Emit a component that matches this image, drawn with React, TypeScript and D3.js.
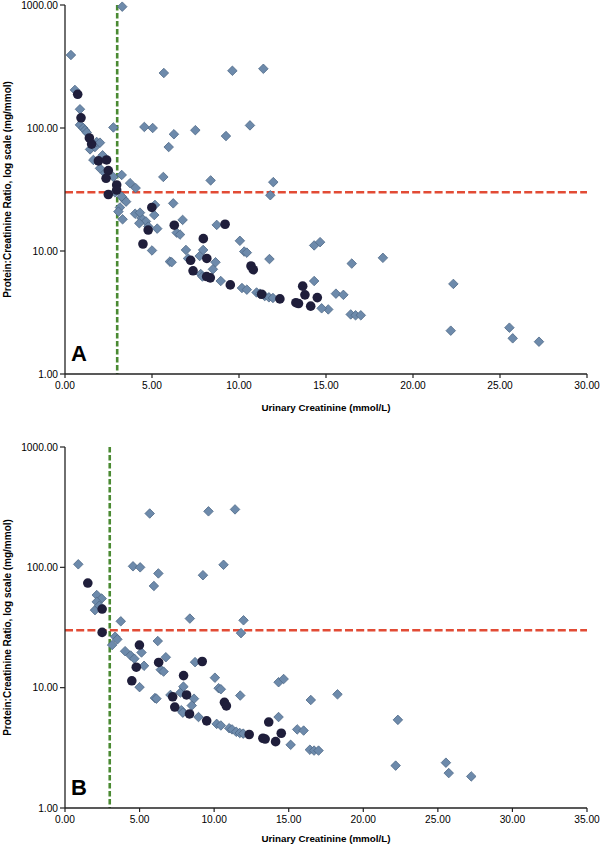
import * as d3 from 'd3';

// values: [urinary creatinine, protein:creatinine ratio]
const sharedDiamonds: [number, number][] = [
  [3.74, 35.6], [4.56, 102], [5.04, 100], [6.26, 89], [5.96, 70], [5.68, 280],
  [9.62, 292], [11.4, 303], [9.25, 86], [10.63, 105], [8.37, 37.5], [11.97, 36.3],
  [11.8, 28.4], [3.36, 26.5], [3.51, 25.2], [3.16, 22.6], [4.03, 20.1], [4.4, 18.5],
  [4.65, 17.4], [5.3, 15.2], [5.13, 19.6], [6.22, 24.4], [6.76, 17.9], [6.42, 14.1],
  [6.61, 13.6], [5.0, 10.1], [6.03, 8.2], [6.13, 8.1], [7.07, 8.7], [7.74, 9.1],
  [7.94, 10.2], [8.65, 8.1], [8.5, 7.1], [7.8, 6.5], [7.9, 6.2], [8.95, 5.7],
  [8.72, 16.3], [10.05, 12.1], [10.3, 9.9], [10.45, 9.7], [10.17, 5.0], [10.45, 4.85],
  [11.01, 4.6], [11.2, 4.5], [11.48, 4.3], [11.72, 4.2], [11.95, 4.15], [11.75, 8.6],
  [14.32, 5.7], [14.32, 11.1], [14.66, 11.8], [15.13, 3.35], [15.57, 4.5], [16.0, 4.4],
  [16.42, 3.05], [16.7, 3.0], [17.0, 3.0], [16.48, 7.9], [18.27, 8.8], [22.32, 5.4],
  [22.17, 2.25], [25.54, 2.38], [25.73, 1.95], [27.24, 1.83]
];

const sharedCircles: [number, number][] = [
  [1.53, 74], [2.49, 45], [2.49, 28.8], [4.99, 22.6], [4.78, 14.8], [4.48, 11.4],
  [6.28, 16.2], [7.22, 8.4], [7.36, 6.9], [7.95, 12.6], [8.15, 8.7], [8.35, 6.05],
  [9.2, 16.5], [9.5, 5.3], [10.69, 7.55], [10.82, 7.05], [12.35, 4.08], [13.66, 5.18],
  [14.12, 3.56], [14.5, 4.18], [13.27, 3.8], [13.42, 3.74]
];

const onlyADiamonds: [number, number][] = [
  [0.34, 392], [0.57, 204], [0.86, 142], [0.86, 106], [1.05, 100], [1.15, 96],
  [1.25, 92], [1.44, 67], [1.72, 70], [1.82, 77], [2.01, 76], [1.63, 55], [2.16, 60],
  [2.01, 47], [2.3, 42.8], [2.78, 40], [2.87, 30], [2.78, 101], [3.29, 969],
  [3.26, 41.5], [4.06, 32.5], [7.49, 96], [5.65, 40], [3.26, 27.7], [3.07, 20.9],
  [3.31, 18.1], [4.31, 20.5], [4.27, 16.8], [4.79, 15.8], [5.17, 23.7], [6.95, 10.2],
  [14.75, 3.42]
];

const onlyACircles: [number, number][] = [
  [0.73, 188], [0.92, 121], [1.4, 83], [1.92, 54], [2.39, 55], [2.36, 39],
  [2.97, 34.4], [2.97, 31.3], [8.14, 6.2], [11.3, 4.45], [13.79, 4.4]
];

const onlyBDiamonds: [number, number][] = [
  [0.89, 106], [2.13, 58.8], [2.46, 55], [2.13, 51.7], [2.01, 44.1], [2.3, 48]
];

const onlyBCircles: [number, number][] = [];

const yTicks = [1, 10, 100, 1000];
const xTicksA = [0, 5, 10, 15, 20, 25, 30];
const xTicksB = [0, 5, 10, 15, 20, 25, 30, 35];
const uacrCut = 30;
const creatCut = 3;

const font = 'Arial, "Liberation Sans", Helvetica, sans-serif';

interface PanelProps {
  label: string;
  xMax: number;
  xTicks: number[];
  top: number;
  bottom: number;
  titleGap: number;
  diamonds: [number, number][];
  circles: [number, number][];
}

function Panel({ label, xMax, xTicks, top, bottom, titleGap, diamonds, circles }: PanelProps) {
  const left = 65;
  const right = 587;
  const x = d3.scaleLinear().domain([0, xMax]).range([left, right]);
  const y = d3.scaleLog().domain([1, 1000]).range([bottom, top]);
  const diamond = d3.symbol().type(d3.symbolDiamond2).size(58)();
  const fmt = d3.format('.2f');

  return (
    <g>
      {/* cut-off lines */}
      <line x1={x(creatCut)} x2={x(creatCut)} y1={y(1000)} y2={y(1)}
        stroke="#4a8a32" strokeWidth={2.6} strokeDasharray="5.5,2.5" />
      <line x1={x(0)} x2={x(xMax)} y1={y(uacrCut)} y2={y(uacrCut)}
        stroke="#e24b35" strokeWidth={2.6} strokeDasharray="8,3.2" />

      {diamonds.map((d, i) => (
        <path key={'d' + i} d={diamond!} transform={`translate(${x(d[0])},${y(d[1])})`}
          fill="#6d8aab" stroke="#4e6886" strokeWidth={0.8} />
      ))}
      {circles.map((d, i) => (
        <circle key={'c' + i} cx={x(d[0])} cy={y(d[1])} r={4.8} fill="#1f1e3b" />
      ))}

      {/* axes */}
      <line x1={left} x2={left} y1={top} y2={bottom} stroke="#222" strokeWidth={1.3} />
      <line x1={left} x2={right} y1={bottom} y2={bottom} stroke="#222" strokeWidth={1.3} />
      {yTicks.map((t) => (
        <g key={'y' + t}>
          <line x1={left - 5} x2={left} y1={y(t)} y2={y(t)} stroke="#222" strokeWidth={1.2} />
          <text x={left - 7} y={y(t) + 3.6} textAnchor="end" fontSize={10.2} fontFamily={font}>
            {fmt(t)}
          </text>
        </g>
      ))}
      {xTicks.map((t) => (
        <g key={'x' + t}>
          <line x1={x(t)} x2={x(t)} y1={bottom} y2={bottom + 4} stroke="#222" strokeWidth={1.2} />
          <text x={x(t)} y={bottom + 15} textAnchor="middle" fontSize={10.2} fontFamily={font}>
            {fmt(t)}
          </text>
        </g>
      ))}
      <text x={(left + right) / 2} y={bottom + titleGap} textAnchor="middle" fontSize={9.8}
        fontWeight="bold" fontFamily={font}>
        Urinary Creatinine (mmol/L)
      </text>
      <text transform={`translate(11,${(top + bottom) / 2}) rotate(-90)`} textAnchor="middle"
        fontSize={10} fontWeight="bold" fontFamily={font}>
        Protein:Creatinine Ratio, log scale (mg/mmol)
      </text>
      <text x={left + 6} y={bottom - 13} fontSize={22} fontWeight="bold" fontFamily={font}>
        {label}
      </text>
    </g>
  );
}

export default function App() {
  return (
    <svg width={600} height={846} style={{ position: 'absolute', left: 0, top: 0, background: '#fff' }}>
      <Panel label="A" xMax={30} xTicks={xTicksA} top={5} bottom={374} titleGap={36.5}
        diamonds={[...sharedDiamonds, ...onlyADiamonds]}
        circles={[...sharedCircles, ...onlyACircles]} />
      <Panel label="B" xMax={35} xTicks={xTicksB} top={447} bottom={808} titleGap={34}
        diamonds={[...sharedDiamonds, ...onlyBDiamonds]}
        circles={[...sharedCircles, ...onlyBCircles]} />
    </svg>
  );
}
